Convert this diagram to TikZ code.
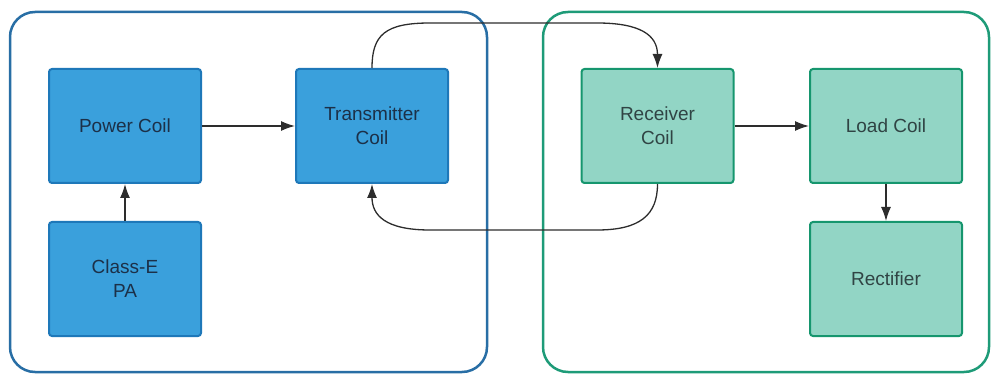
\documentclass[tikz,border=0pt]{standalone}
\usepackage{fontspec}
\setmainfont{Liberation Sans}
\usetikzlibrary{arrows.meta}
\definecolor{txfill}{RGB}{58,160,220}
\definecolor{txedge}{RGB}{30,120,185}
\definecolor{txframe}{RGB}{40,110,165}
\definecolor{txtext}{RGB}{28,48,72}
\definecolor{rxfill}{RGB}{146,213,197}
\definecolor{rxedge}{RGB}{22,150,110}
\definecolor{rxframe}{RGB}{30,155,120}
\definecolor{rxtext}{RGB}{48,68,68}
\definecolor{wire}{RGB}{45,45,45}
\begin{document}
\begin{tikzpicture}[x=1pt,y=-1pt,
  block/.style={draw,rectangle,rounded corners=3pt,line width=2pt,
    minimum width=152pt,minimum height=114pt,align=center,
    font=\fontsize{19}{24}\selectfont},
  txblock/.style={block,fill=txfill,draw=txedge,text=txtext},
  rxblock/.style={block,fill=rxfill,draw=rxedge,text=rxtext},
  frame/.style={rounded corners=25pt,line width=2.5pt},
  arr/.style={draw=wire,line width=1.3pt,-{Latex[length=14pt,width=10pt]}}]
\useasboundingbox (0,0) rectangle (991,374);
% transmitter and receiver sections
\draw[frame,draw=txframe] (10,12) rectangle (487,372);
\draw[frame,draw=rxframe] (543,12) rectangle (989,372);
% blocks
\node[txblock] (pc) at (125,126) {Power Coil};
\node[txblock] (pa) at (125,279) {Class-E\\PA};
\node[txblock] (tx) at (372,126) {Transmitter\\Coil};
\node[rxblock] (rx) at (657.5,126) {Receiver\\Coil};
\node[rxblock] (lc) at (886,126) {Load Coil};
\node[rxblock] (rf) at (886,279) {Rectifier};
% connections
\draw[arr] (pa) -- (pc);
\draw[arr] (pc) -- (tx);
\draw[arr] (rx) -- (lc);
\draw[arr] (lc) -- (rf);
\draw[arr] (tx.north) .. controls (372,35) and (385,23) .. (430,23)
  -- (597,23) .. controls (640,23) and (657.5,35) .. (rx.north);
\draw[arr] (rx.south) .. controls (657.5,215) and (640,230) .. (597,230)
  -- (430,230) .. controls (385,230) and (372,215) .. (tx.south);
\end{tikzpicture}
\end{document}
